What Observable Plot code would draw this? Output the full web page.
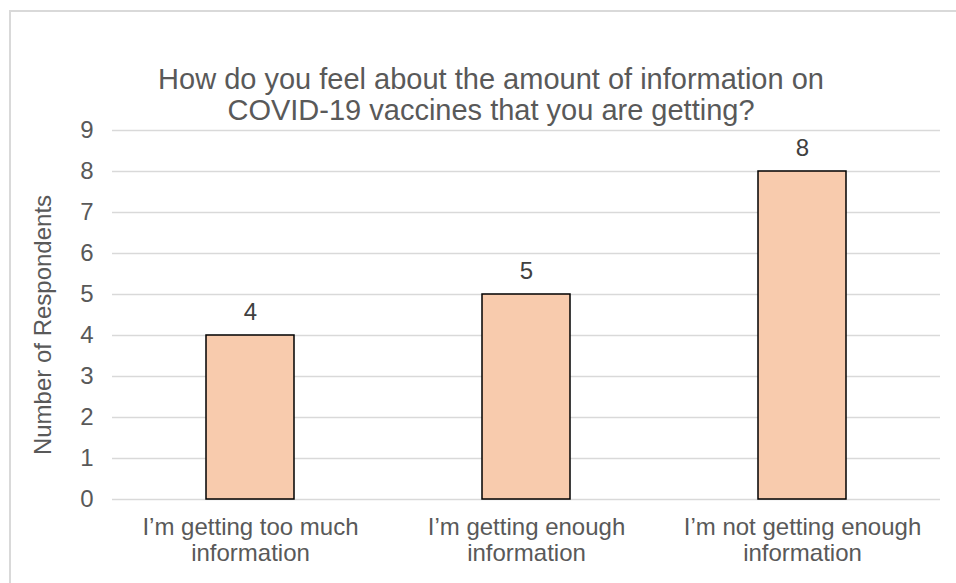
<!DOCTYPE html>
<html>
<head>
<meta charset="utf-8">
<script src="https://cdn.jsdelivr.net/npm/d3@7"></script>
<script src="https://cdn.jsdelivr.net/npm/@observablehq/plot@0.6"></script>
<style>
  html, body { margin: 0; padding: 0; background: #fff; }
  body { width: 956px; height: 583px; position: relative; overflow: hidden; font-family: "Liberation Sans", Arial, sans-serif; }
  #frame { position: absolute; left: 9px; top: 10px; width: 1000px; height: 1000px; border-top: 2px solid #d9d9d9; border-left: 2px solid #d9d9d9; }
  #title { position: absolute; left: 0; width: 982px; top: 64px; text-align: center; color: #595959; font-size: 29px; line-height: 31px; }
  #chart { position: absolute; left: 0; top: 0; }
</style>
</head>
<body>
<div id="frame"></div>
<div id="chart"></div>
<div id="title">How do you feel about the amount of information on<br>COVID-19 vaccines that you are getting?</div>
<script>
const categories = ["I’m getting too much\ninformation", "I’m getting enough\ninformation", "I’m not getting enough\ninformation"];
const values = [4, 5, 8];
const yTicks = [0, 1, 2, 3, 4, 5, 6, 7, 8, 9];

const data = categories.map((c, i) => ({category: c, value: values[i]}));

const chart = Plot.plot({
  width: 956,
  height: 583,
  marginLeft: 112,
  marginRight: 16,
  marginTop: 130,
  marginBottom: 84,
  style: {fontFamily: "'Liberation Sans', Arial, sans-serif", background: "transparent"},
  x: {domain: categories, paddingInner: 0.68, paddingOuter: 0.34, label: null},
  y: {domain: [0, 9], label: null},
  marks: [
    Plot.gridY(yTicks, {stroke: "#d9d9d9", strokeOpacity: 1, strokeWidth: 1.5}),
    Plot.rectY(data, {x: "category", y: "value", fill: "#f8cbad", stroke: "#000", strokeWidth: 1.5}),
    Plot.text(data, {x: "category", y: "value", text: d => String(d.value), dy: -23, fill: "#404040", fontSize: 24}),
    Plot.axisY(yTicks, {tickSize: 0, tickPadding: 19, fontSize: 24, fill: "#595959", label: null}),
    Plot.axisX({tickSize: 0, tickPadding: 16, fontSize: 24, fill: "#595959", lineHeight: 1.12, label: null}),
    Plot.text(["Number of Respondents"], {frameAnchor: "left", textAnchor: "middle", dx: -69, dy: 10, rotate: -90, fontSize: 24, fill: "#595959"})
  ]
});
document.getElementById("chart").appendChild(chart);
</script>
</body>
</html>
